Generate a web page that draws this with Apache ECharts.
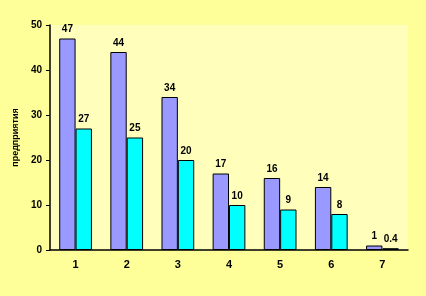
<!DOCTYPE html>
<html><head><meta charset="utf-8">
<script src="https://cdn.jsdelivr.net/npm/echarts@6/dist/echarts.min.js"></script>
<style>html,body{margin:0;padding:0;background:#FFFF99}#c{width:426px;height:296px}</style>
</head><body><div id="c"></div>
<script>
const categories = ['1','2','3','4','5','6','7'];
const seriesA = [47, 44, 34, 17, 16, 14, 1];
const seriesB = [27, 25, 20, 10, 9, 8, 0.4];
const yTicks = [0, 10, 20, 30, 40, 50];
const yName = 'предприятия';

const chart = echarts.init(document.getElementById('c'));
const lbl = {show:true, position:'top', distance:4, color:'#000', fontFamily:'Liberation Sans', fontWeight:'bold', fontSize:10};
chart.setOption({
  backgroundColor:'#FFFF99',
  animation:false,
  grid:{left:50, right:18, top:25, bottom:46, show:true, backgroundColor:'#FFFFBB', borderWidth:0},
  xAxis:{type:'category', data:categories,
    axisLine:{lineStyle:{color:'#000', width:1.5}},
    axisTick:{show:false},
    axisLabel:{color:'#000', fontFamily:'Liberation Sans', fontWeight:'bold', fontSize:11, margin:9}},
  yAxis:{type:'value', min:yTicks[0], max:yTicks[yTicks.length-1], interval:10,
    name:yName, nameLocation:'middle', nameGap:29,
    nameTextStyle:{color:'#000', fontFamily:'Liberation Sans', fontWeight:'bold', fontSize:9},
    axisLine:{show:true, lineStyle:{color:'#000', width:1.5}},
    axisTick:{show:true, length:4, lineStyle:{color:'#000'}},
    splitLine:{show:false},
    axisLabel:{color:'#000', fontFamily:'Liberation Sans', fontWeight:'bold', fontSize:10, margin:8}},
  series:[
    {type:'bar', data:seriesA, barGap:'0%', barCategoryGap:'36%',
     itemStyle:{color:'#9999FF', borderColor:'#000', borderWidth:1}, label:lbl},
    {type:'bar', data:seriesB,
     itemStyle:{color:'#00FFFF', borderColor:'#000', borderWidth:1}, label:lbl}
  ]
});
</script></body></html>
